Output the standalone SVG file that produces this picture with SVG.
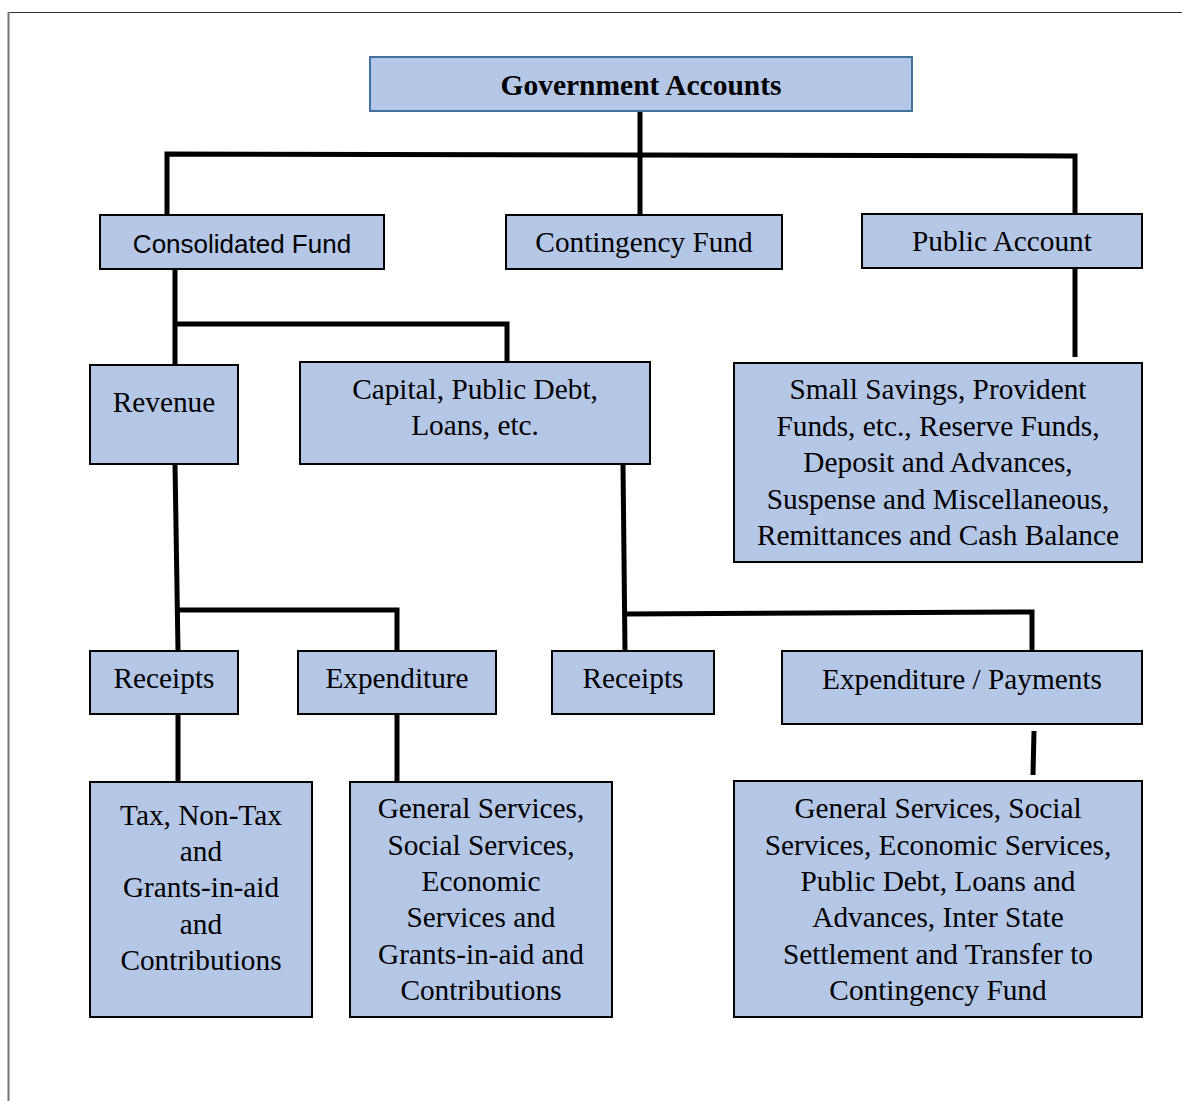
<svg xmlns="http://www.w3.org/2000/svg" width="1182" height="1101" viewBox="0 0 1182 1101">
<style>
.box{fill:#b4c7e7;stroke:#000;stroke-width:2}
.top{fill:#b4c7e7;stroke:#41719c;stroke-width:2}
.t{font-family:"Liberation Serif","Times New Roman",serif;font-size:29.3px;fill:#000;text-anchor:middle}
.b{font-weight:bold;font-size:29.5px}
.s{font-family:"Liberation Sans",Arial,sans-serif;font-size:26px}
.c{fill:none;stroke:#000;stroke-width:5}
</style>
<rect width="1182" height="1101" fill="#fff"/>
<g id="frame" fill="none">
<line x1="8" y1="12.5" x2="1182" y2="12.5" stroke="#333" stroke-width="1"/>
<line x1="8.5" y1="12" x2="8.5" y2="1101" stroke="#777" stroke-width="2"/>
</g>
<g id="connectors" class="c">
<line x1="640" y1="111" x2="640" y2="214"/>
<polyline points="167,214 167,154 1075,156 1075,214"/>
<line x1="175" y1="269" x2="175" y2="365"/>
<polyline points="175,324 507,324 507,362"/>
<line x1="1075" y1="268" x2="1075" y2="357"/>
<line x1="175" y1="464" x2="178" y2="651"/>
<polyline points="177,610 397,610 397,651"/>
<line x1="623" y1="464" x2="625" y2="651"/>
<polyline points="624,614 1032,612 1032,651"/>
<line x1="178" y1="714" x2="178" y2="782"/>
<line x1="397" y1="714" x2="397" y2="782"/>
<line x1="1034" y1="731" x2="1033" y2="775"/>
</g>
<g id="government-accounts">
<rect class="top" x="370" y="57" width="542" height="54"/>
<text class="t b" x="641" y="95">Government Accounts</text>
</g>
<g id="consolidated-fund">
<rect class="box" x="100" y="215" width="284" height="54"/>
<text class="t s" x="242" y="253">Consolidated Fund</text>
</g>
<g id="contingency-fund">
<rect class="box" x="506" y="215" width="276" height="54"/>
<text class="t" x="644" y="252">Contingency Fund</text>
</g>
<g id="public-account">
<rect class="box" x="862" y="214" width="280" height="54"/>
<text class="t" x="1002" y="251">Public Account</text>
</g>
<g id="revenue">
<rect class="box" x="90" y="365" width="148" height="99"/>
<text class="t" x="164" y="412">Revenue</text>
</g>
<g id="capital">
<rect class="box" x="300" y="362" width="350" height="102"/>
<text class="t" x="475" y="399">Capital, Public Debt,</text>
<text class="t" x="475" y="435">Loans, etc.</text>
</g>
<g id="public-account-items">
<rect class="box" x="734" y="363" width="408" height="199"/>
<text class="t" x="938" y="399">Small Savings, Provident</text>
<text class="t" x="938" y="436">Funds, etc., Reserve Funds,</text>
<text class="t" x="938" y="472">Deposit and Advances,</text>
<text class="t" x="938" y="509">Suspense and Miscellaneous,</text>
<text class="t" x="938" y="545">Remittances and Cash Balance</text>
</g>
<g id="revenue-receipts">
<rect class="box" x="90" y="651" width="148" height="63"/>
<text class="t" x="164" y="688">Receipts</text>
</g>
<g id="revenue-expenditure">
<rect class="box" x="298" y="651" width="198" height="63"/>
<text class="t" x="397" y="688">Expenditure</text>
</g>
<g id="capital-receipts">
<rect class="box" x="552" y="651" width="162" height="63"/>
<text class="t" x="633" y="688">Receipts</text>
</g>
<g id="capital-expenditure">
<rect class="box" x="782" y="651" width="360" height="73"/>
<text class="t" x="962" y="689">Expenditure / Payments</text>
</g>
<g id="revenue-receipts-items">
<rect class="box" x="90" y="782" width="222" height="235"/>
<text class="t" x="201" y="825">Tax, Non-Tax</text>
<text class="t" x="201" y="861">and</text>
<text class="t" x="201" y="897">Grants-in-aid</text>
<text class="t" x="201" y="934">and</text>
<text class="t" x="201" y="970">Contributions</text>
</g>
<g id="revenue-expenditure-items">
<rect class="box" x="350" y="782" width="262" height="235"/>
<text class="t" x="481" y="818">General Services,</text>
<text class="t" x="481" y="855">Social Services,</text>
<text class="t" x="481" y="891">Economic</text>
<text class="t" x="481" y="927">Services and</text>
<text class="t" x="481" y="964">Grants-in-aid and</text>
<text class="t" x="481" y="1000">Contributions</text>
</g>
<g id="capital-expenditure-items">
<rect class="box" x="734" y="781" width="408" height="236"/>
<text class="t" x="938" y="818">General Services, Social</text>
<text class="t" x="938" y="855">Services, Economic Services,</text>
<text class="t" x="938" y="891">Public Debt, Loans and</text>
<text class="t" x="938" y="927">Advances, Inter State</text>
<text class="t" x="938" y="964">Settlement and Transfer to</text>
<text class="t" x="938" y="1000">Contingency Fund</text>
</g>
</svg>
